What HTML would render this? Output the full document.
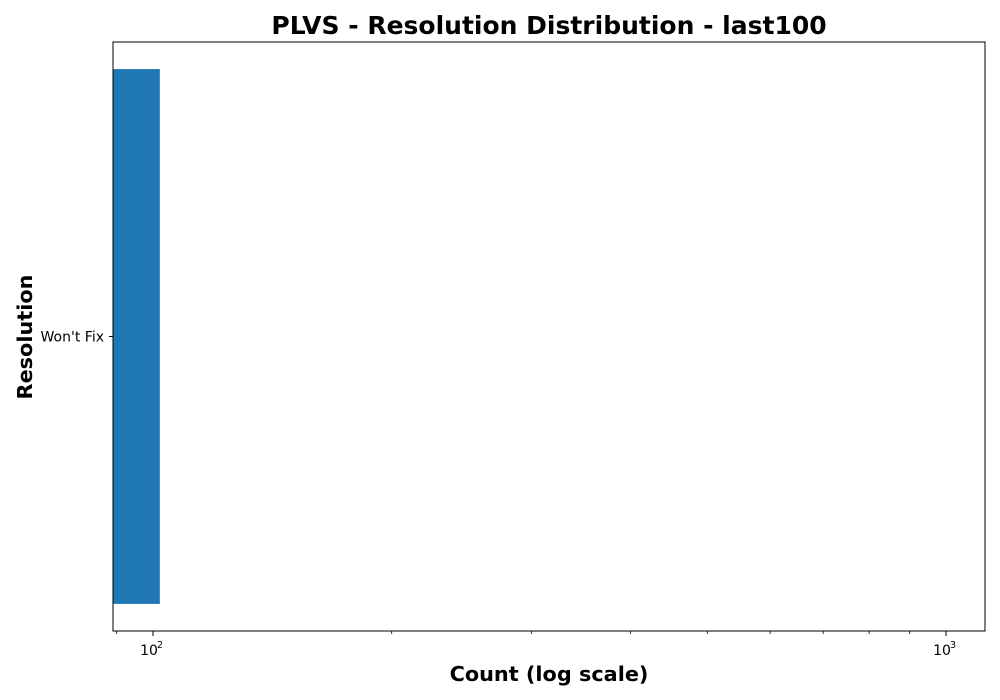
<!DOCTYPE html>
<html><head><meta charset="utf-8"><style>body{margin:0;background:#fff}svg{display:block;font-family:"DejaVu Sans","Liberation Sans",sans-serif}</style></head>
<body>
<svg id="c" width="1000" height="700">
<text x="549" y="34" text-anchor="middle" font-size="25" font-weight="bold">PLVS - Resolution Distribution - last100</text>
<text x="549" y="681" text-anchor="middle" font-size="20.8" font-weight="bold">Count (log scale)</text>
<text transform="translate(32,337) rotate(-90)" text-anchor="middle" font-size="20.8" font-weight="bold">Resolution</text>
<g id="marks"></g>
<rect x="113" y="42" width="872" height="589" fill="none" stroke="#000" stroke-width="1"/>
</svg>
<script>
const categories = ["Won't Fix"];
const counts = [102];
const majorTicks = [100, 1000];
const majorLabels = ["2", "3"];
const minorTicks = [90, 200, 300, 400, 500, 600, 700, 800, 900];
const L=113,R=985,T=42,B=631;
const x0=153, decade=793;
function xs(v){return x0+decade*Math.log10(v/100);}
function yband(i){const n=categories.length;const step=(B-T)/n;return {c:T+step*(i+0.5),h:step*0.908};}
const g=document.getElementById('marks');const NS='http://www.w3.org/2000/svg';
function mk(t,a){const e=document.createElementNS(NS,t);for(const k in a)e.setAttribute(k,a[k]);g.appendChild(e);return e;}
categories.forEach((c,i)=>{const b=yband(i);
 const r=mk('rect',{x:L,y:b.c-b.h/2,width:Math.max(0,xs(counts[i])-L),height:b.h,fill:'#1f77b4'});
 
 
 const tk=mk('line',{x1:L-4,x2:L,y1:b.c,y2:b.c,stroke:'#000'});
 
 
 const t=mk('text',{x:L-9,y:b.c+5,'text-anchor':'end','font-size':14});t.textContent=c;
 
 
});
majorTicks.forEach((v,i)=>{const x=xs(v);
 const l=mk('line',{x1:x,x2:x,y1:B,y2:B+5,stroke:'#000'});
 
 
 const t=mk('text',{x:x-4,y:B+24,'text-anchor':'middle','font-size':14});t.textContent='10';
 
 
 const s=mk('text',{x:x+7,y:B+17,'text-anchor':'middle','font-size':9.5});s.textContent=majorLabels[i];
 
 
});
minorTicks.forEach(v=>{const x=xs(v);
 const l=mk('line',{x1:x,x2:x,y1:B,y2:B+3,stroke:'#000','stroke-width':0.8});
 
 
});
</script>
</body></html>
